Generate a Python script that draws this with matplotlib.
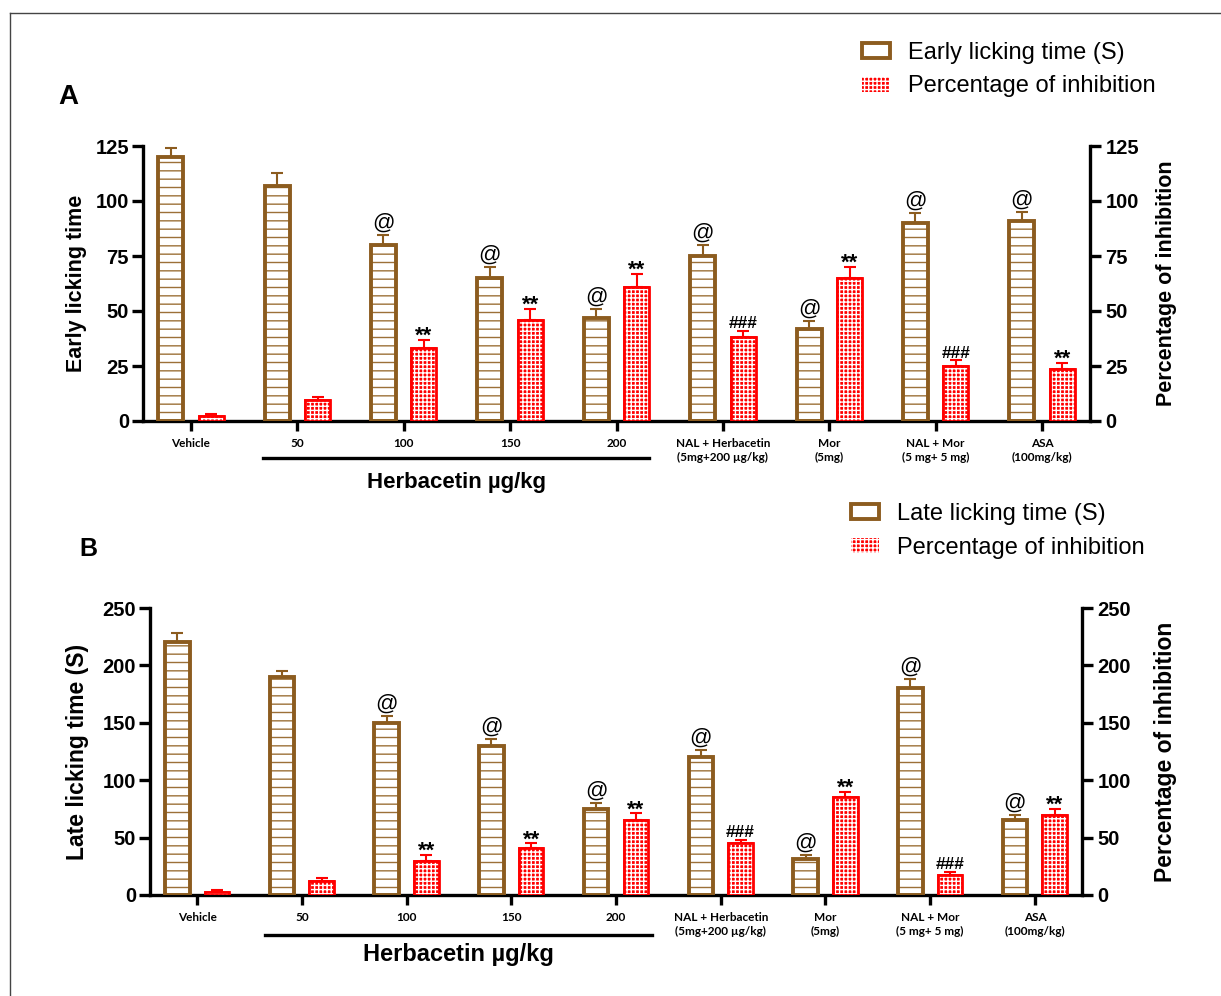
import matplotlib
matplotlib.use('Agg')
import matplotlib.pyplot as plt
import matplotlib.patches as mpatches
import matplotlib.transforms as mtransforms
from matplotlib.lines import Line2D
import numpy as np

plt.rcParams.update({
    "font.family": "Liberation Sans",
    "hatch.linewidth": 1.0,
})

BROWN = '#8C5C1F'
BROWN_HATCH = '#9C7038'
RED = '#FF0000'

# Groups on the x axis
groups = ['Vehicle', '50', '100', '150', '200',
          'NAL + Herbacetin\n(5mg+200 µg/kg)', 'Mor\n(5mg)',
          'NAL + Mor\n(5 mg+ 5 mg)', 'ASA\n(100mg/kg)']

# Panel A (early phase)
early_time = [120, 107, 80, 65, 47, 75, 42, 90, 91]
early_time_err = [4, 5.5, 4.5, 5, 4, 5, 3.5, 4.5, 4]
early_inhib = [2.2, 9.5, 33, 46, 61, 38, 65, 25, 23.5]
early_inhib_err = [0.8, 1.5, 4, 5, 6, 3, 5, 2.5, 3]

# Panel B (late phase)
late_time = [220, 190, 150, 130, 75, 120, 31, 180, 65]
late_time_err = [8, 5, 6, 6, 5, 6, 4, 8, 5]
late_inhib = [2.5, 12, 30, 41, 65, 45, 85, 17, 70]
late_inhib_err = [2, 2.5, 5, 4, 6, 3, 5, 3, 5]

# Significance marks
time_marks = ['', '', '@', '@', '@', '@', '@', '@', '@']
inhib_marks = ['', '', '**', '**', '**', '###', '**', '###', '**']

fig = plt.figure(figsize=(12.21, 9.96), dpi=100)

off = 0.19
width = 0.235


def draw_panel(rect, top, step, time, time_err, inhib, inhib_err, ylabel, lab_size,
               lab_x, rlab_x, dose_line, dose_text_y, dose_size):
    ax = fig.add_axes(rect)
    n = len(groups)
    x = np.arange(n)

    # Time bars (white with brown horizontal lines)
    ax.errorbar(x - off, time, yerr=[np.zeros(n), time_err], fmt='none', ecolor=BROWN,
                elinewidth=1.5, capsize=4.5, capthick=1.5, zorder=1)
    ax.bar(x - off, time, width, facecolor='white', edgecolor=BROWN_HATCH, linewidth=0,
           hatch='--', zorder=2)
    ax.bar(x - off, time, width, facecolor='none', edgecolor=BROWN, linewidth=2.8, zorder=3)

    # Inhibition bars (red with white checks)
    ax.errorbar(x + off, inhib, yerr=[np.zeros(n), inhib_err], fmt='none', ecolor=RED,
                elinewidth=1.5, capsize=4.5, capthick=1.5, zorder=1)
    ax.bar(x + off, inhib, width, color=RED, edgecolor=RED, linewidth=1.2, zorder=2)
    ax.bar(x + off, inhib, width, facecolor='none', edgecolor='white', linewidth=0,
           hatch='++++', zorder=3)
    ax.bar(x + off, inhib, width, facecolor='none', edgecolor=RED, linewidth=2.0, zorder=4)

    for i in range(n):
        if time_marks[i]:
            ax.annotate(time_marks[i], (x[i] - off, time[i] + time_err[i]), xytext=(0, 1),
                        textcoords='offset points', ha='center', va='bottom', fontsize=16)
        if inhib_marks[i]:
            is_star = inhib_marks[i] == '**'
            ax.annotate(inhib_marks[i], (x[i] + off, inhib[i] + inhib_err[i]),
                        xytext=(0, -5 if is_star else 0), textcoords='offset points',
                        ha='center', va='bottom', fontsize=16 if is_star else 12.5,
                        fontweight='bold')

    ax.set_xlim(-0.45, 8.45)
    ax.set_ylim(0, top)
    ax.set_yticks(np.arange(0, top + 1, step))
    ax.set_xticks(x)
    ax.set_xticklabels(groups, fontfamily='Lato', fontweight='bold', fontsize=8.5,
                       linespacing=1.35)
    ax.spines['top'].set_visible(False)
    ax.spines['right'].set_visible(False)
    for s in ['left', 'bottom']:
        ax.spines[s].set_linewidth(2.4)
    ax.tick_params(axis='y', direction='out', length=8, width=2.4, labelsize=14.5, pad=2)
    ax.tick_params(axis='x', direction='out', length=7, width=2.4, pad=5)
    for t in ax.get_yticklabels():
        t.set_fontweight('bold')
    ax.set_ylabel(ylabel, fontsize=lab_size, fontweight='bold', va='center')
    ax.yaxis.set_label_coords(lab_x, 0.5)

    ax2 = ax.twinx()
    ax2.set_ylim(0, top)
    ax2.set_yticks(np.arange(0, top + 1, step))
    for s in ['left', 'bottom', 'top']:
        ax2.spines[s].set_visible(False)
    ax2.spines['right'].set_linewidth(2.4)
    ax2.tick_params(axis='y', direction='out', length=8, width=2.4, labelsize=14.5, pad=3)
    for t in ax2.get_yticklabels():
        t.set_fontweight('bold')
    ax2.set_ylabel('Percentage of inhibition', fontsize=lab_size, fontweight='bold',
                   va='center')
    ax2.yaxis.set_label_coords(rlab_x, 0.5)

    # Herbacetin dose bracket
    trans = mtransforms.blended_transform_factory(ax.transData, ax.transAxes)
    ax.plot(dose_line[:2], [dose_line[2]] * 2, transform=trans, clip_on=False,
            color='black', linewidth=2.4)
    ax.text(sum(dose_line[:2]) / 2, dose_text_y, 'Herbacetin µg/kg', transform=trans,
            ha='center', va='center', fontsize=dose_size, fontweight='bold')
    return ax


W, H = 1221, 996

draw_panel([143 / W, 1 - 421 / H, (1090 - 143) / W, (421 - 146) / H], 125, 25,
           early_time, early_time_err, early_inhib, early_inhib_err,
           'Early licking time', 15.5, -0.0707, 1.081, (0.68, 4.31, -0.135), -0.225, 16)

draw_panel([150 / W, 1 - 895 / H, (1082 - 150) / W, (895 - 608) / H], 250, 50,
           late_time, late_time_err, late_inhib, late_inhib_err,
           'Late licking time (S)', 16.5, -0.0773, 1.090, (0.65, 4.34, -0.139), -0.209, 17)

# Panel letters
fig.text(68 / W, 1 - 97 / H, 'A', fontsize=20, fontweight='bold', ha='center', va='center')
fig.text(88 / W, 1 - 549 / H, 'B', fontsize=18, fontweight='bold', ha='center', va='center')


def legend_handles():
    h1 = mpatches.Patch(facecolor='white', edgecolor=BROWN, linewidth=2.8)
    h2 = mpatches.Patch(facecolor=RED, edgecolor='white', hatch='++++', linewidth=0)
    return [h1, h2]


fig.legend(legend_handles(), ['Early licking time (S)', 'Percentage of inhibition'],
           loc='center left', bbox_to_anchor=(862 / W, 1 - 69.5 / H), frameon=False,
           fontsize=17, handlelength=1.2, handleheight=0.6, handletextpad=0.76,
           labelspacing=0.5, borderpad=0, borderaxespad=0)
fig.legend(legend_handles(), ['Late licking time (S)', 'Percentage of inhibition'],
           loc='center left', bbox_to_anchor=(851 / W, 1 - 531 / H), frameon=False,
           fontsize=17, handlelength=1.2, handleheight=0.6, handletextpad=0.76,
           labelspacing=0.5, borderpad=0, borderaxespad=0)

# Outer frame (top and left edges)
fig.add_artist(Line2D([10 / W, 10 / W], [0, 1 - 13 / H], color='#444444', linewidth=1))
fig.add_artist(Line2D([10 / W, 1], [1 - 13 / H, 1 - 13 / H], color='#444444', linewidth=1))

fig.savefig('out.png', dpi=100)
